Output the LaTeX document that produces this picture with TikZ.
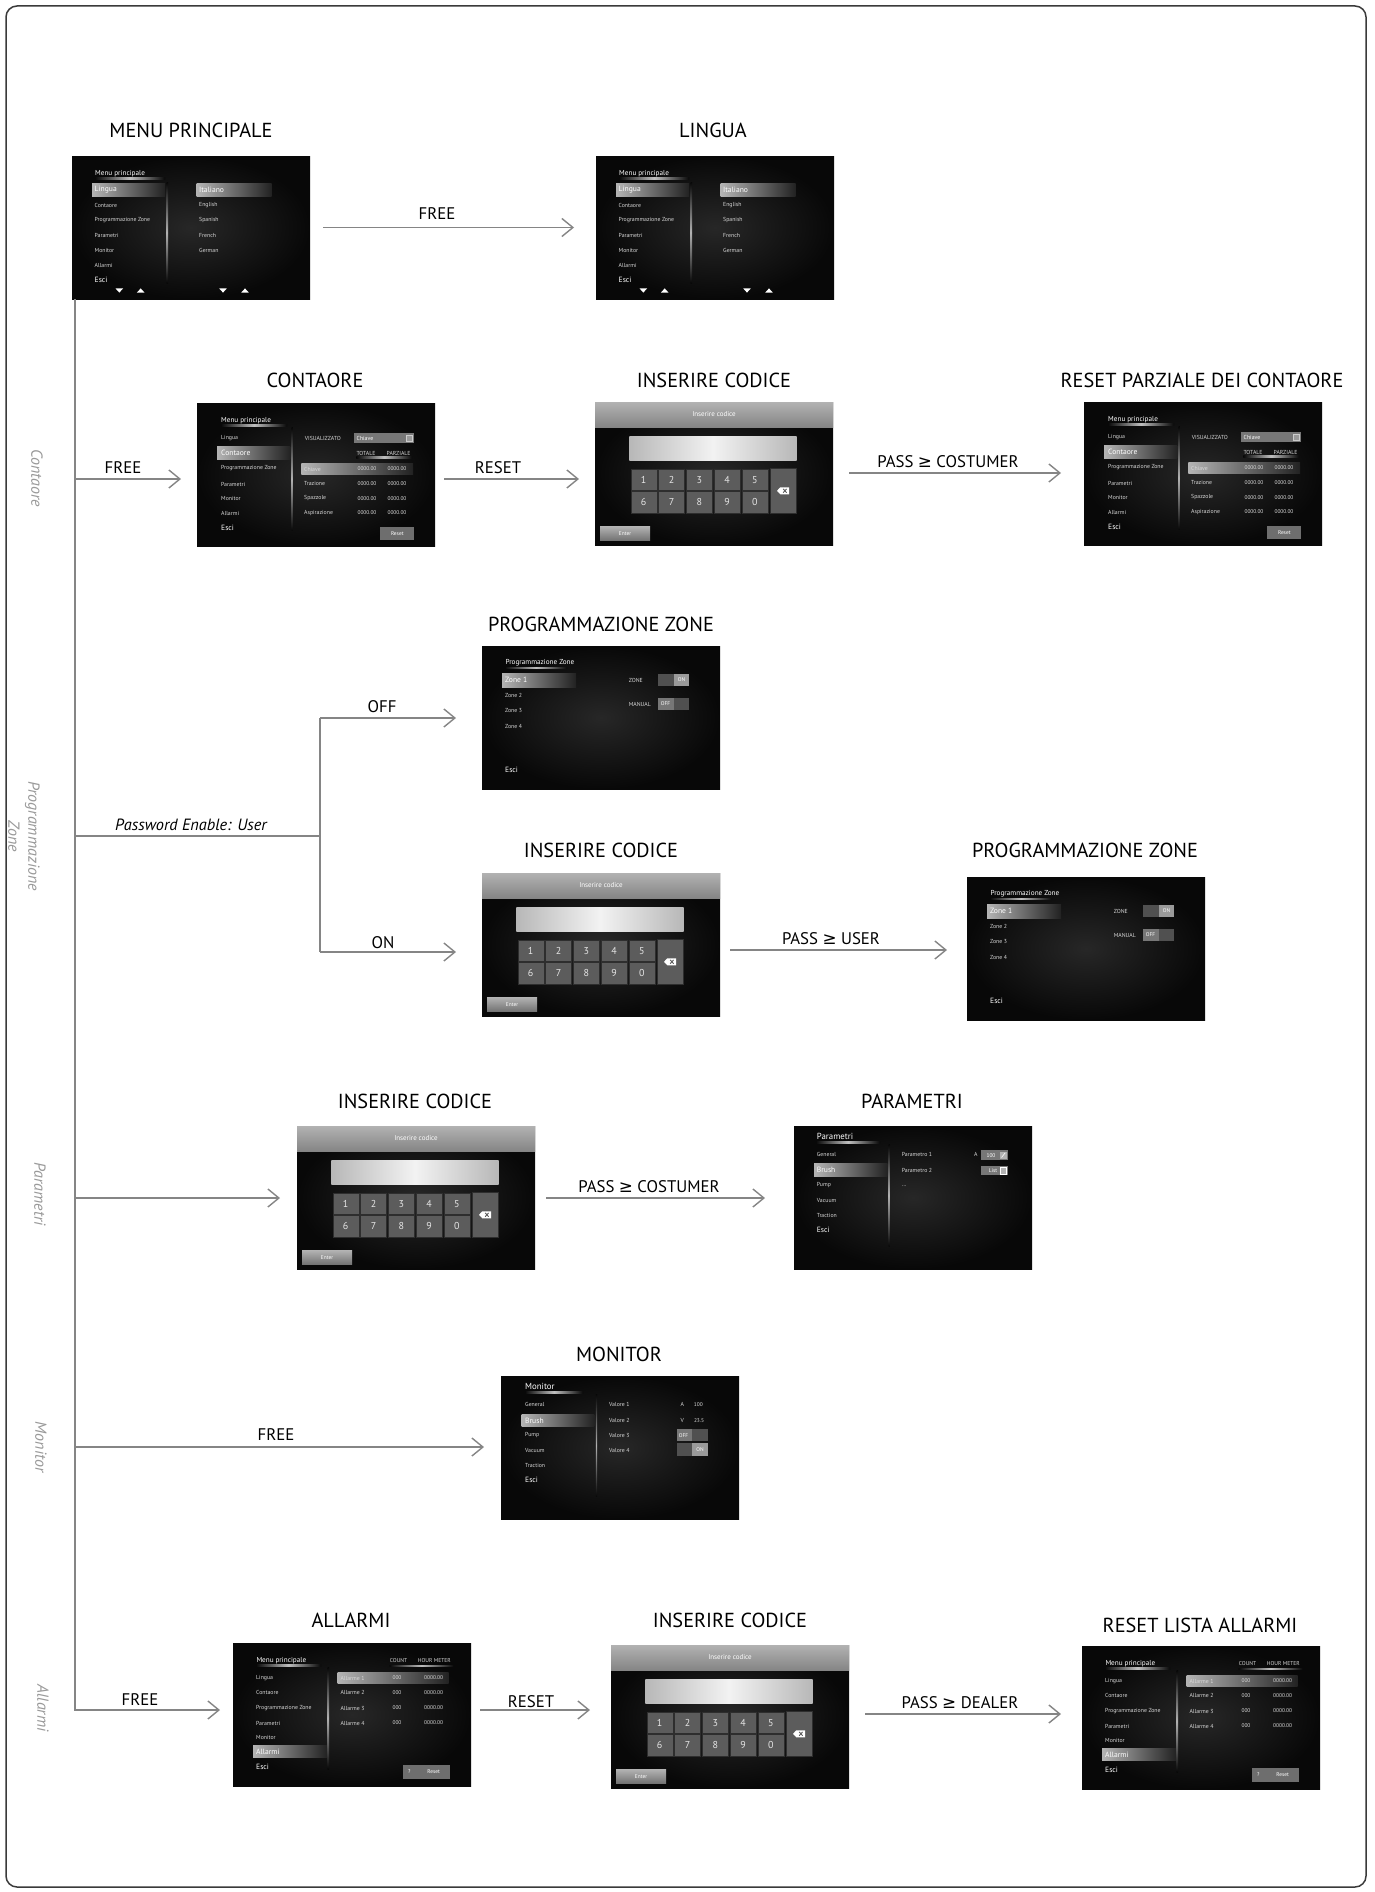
\documentclass[tikz,border=0pt]{standalone}
\usepackage{fontspec}
\setmainfont{PT Sans}
\newfontfamily\djv{DejaVu Sans}
\usetikzlibrary{arrows.meta,calc}
\definecolor{conncol}{HTML}{858585}
\definecolor{framec}{HTML}{3A3A3A}
\definecolor{scrin}{HTML}{272727}
\definecolor{scrout}{HTML}{080808}
\definecolor{txtc}{HTML}{D8D8D8}
\definecolor{hbarl}{HTML}{B4B4B4}
\definecolor{hbarr}{HTML}{222222}
\definecolor{keyc}{HTML}{5C5C5C}
\definecolor{keyb}{HTML}{2E2E2E}
\definecolor{btnc}{HTML}{6E6E6E}
\definecolor{togd}{HTML}{505050}
\definecolor{togl}{HTML}{9A9A9A}
\definecolor{togm}{HTML}{777777}
\definecolor{sidec}{HTML}{9A9A9A}
\definecolor{hdrt}{HTML}{B2B2B2}
\definecolor{hdrb}{HTML}{858585}
\tikzset{
 screen/.style={anchor=north west, minimum width=238pt, minimum height=143pt, inner sep=0pt, outer sep=0pt, shade, inner color=scrin, outer color=scrout},
 sitem/.style={anchor=west, inner sep=0pt, text=txtc, font=\fontsize{5.8}{6}\selectfont},
 sbig/.style={sitem, text=white, font=\fontsize{7.6}{8}\selectfont},
 stitle/.style={sitem, text=white, font=\fontsize{7.2}{8}\selectfont},
 shead/.style={sitem, text=white, font=\fontsize{8.8}{9}\selectfont},
 sval/.style={sitem, anchor=center, font=\fontsize{5.4}{6}\selectfont},
 keyn/.style={draw=keyb, line width=0.4pt, fill=keyc, minimum width=26pt, minimum height=21.5pt, inner sep=0pt, text=white!90!black, font=\fontsize{10}{11}\selectfont},
 ttl/.style={anchor=base, inner sep=0pt, font=\fontsize{20.3}{22}\selectfont},
 lbl/.style={anchor=base, inner sep=0pt, font=\fontsize{16.8}{18}\selectfont},
 sidelab/.style={rotate=-90, inner sep=0pt, text=sidec, font=\itshape\fontsize{16}{20}\selectfont, align=center},
 conn/.style={draw=conncol, line width=1.4pt},
 arr/.style={conn, -{Straight Barb[length=11pt, width=18pt, line width=1.4pt]}},
}
\newcommand\myhbar[4]{\shade[left color=hbarl, right color=hbarr] (#1,#2) rectangle (#3,#4);}
\newcommand\myul[4]{\shade[left color=scrout, right color=scrout, middle color=white!75!black] (#1,#2) rectangle (#3,#4);}
\newcommand\myvsep[4]{\shade[top color=scrout, bottom color=scrout, middle color=white!70!black] (#1,#2) rectangle (#3,#4);}
\newcommand\scrmenu[3]{%
\node[screen] (#1) at (#2,#3) {};
\begin{scope}[shift={(#2,#3)}]
\node[stitle] (#1h) at (23,17.5) {Menu principale};
\myul{23}{21.6}{93}{23}
\myhbar{20}{27.6}{93}{40.3}
\node[sbig] (#1a) at (22.5,34) {Lingua};
\node[sitem] (#1b) at (22.5,49.3) {Contaore};
\node[sitem] (#1c) at (22.5,64.3) {Programmazione Zone};
\node[sitem] (#1d) at (22.5,79.3) {Parametri};
\node[sitem] (#1e) at (22.5,94.3) {Monitor};
\node[sitem] (#1f) at (22.5,109) {Allarmi};
\node[sbig] (#1g) at (22.5,123.6) {Esci};
\myvsep{94.7}{26}{96}{127}
\myhbar{124.7}{27.6}{199.7}{40.3}
\node[sbig] (#1i) at (127,34) {Italiano};
\node[sitem] (#1j) at (127,49.3) {English};
\node[sitem] (#1k) at (127,64.3) {Spanish};
\node[sitem] (#1l) at (127,79.3) {French};
\node[sitem] (#1m) at (127,94.3) {German};
\foreach \cx in {47.3,151}{\fill[white] (\cx-3.8,132.4) -- (\cx+3.8,132.4) -- (\cx,136.6) -- cycle;}
\foreach \cx in {68.7,173}{\fill[white] (\cx-3.8,136.6) -- (\cx+3.8,136.6) -- (\cx,132.4) -- cycle;}
\end{scope}}
\newcommand\scrcont[3]{%
\node[screen] (#1) at (#2,#3) {};
\begin{scope}[shift={(#2,#3)}]
\node[stitle] (#1h) at (24,17.7) {Menu principale};
\myul{24}{21.8}{90}{23.2}
\node[sitem] (#1a) at (24,35.4) {Lingua};
\myhbar{20}{43.7}{93.3}{56}
\node[sbig] (#1b) at (24,50) {Contaore};
\node[sitem] (#1c) at (24,65.4) {Programmazione Zone};
\node[sitem] (#1d) at (24,81) {Parametri};
\node[sitem] (#1e) at (24,95) {Monitor};
\node[sitem] (#1f) at (24,110) {Allarmi};
\node[sbig] (#1g) at (24,125) {Esci};
\myvsep{94.5}{24.4}{95.8}{127.7}
\node[sitem] (#1v) at (107.6,35.4) {VISUALIZZATO};
\fill[togm] (157.3,30.4) rectangle (216.6,40);
\node[sitem, text=white] (#1w) at (159.5,35.2) {Chiave};
\filldraw[fill=togl, draw=white!80!black, line width=0.3pt] (209.3,32.2) rectangle (214.8,38.2);
\node[sval, font=\fontsize{5.8}{6}\selectfont] (#1x) at (169,50) {TOTALE};
\node[sval, font=\fontsize{5.8}{6}\selectfont] (#1y) at (201.6,50) {PARZIALE};
\myul{159.3}{53.8}{215}{55}
\myhbar{104.3}{60}{216}{71.7}
\foreach \nm/\yy [count=\k] in {Chiave/66, Trazione/80.7, Spazzole/95.4, Aspirazione/110}{%
 \node[sitem] (#1r\k) at (107,\yy) {\nm};
 \node[sval] (#1p\k) at (170,\yy) {0000.00};
 \node[sval] (#1q\k) at (200,\yy) {0000.00};}
\fill[btnc] (183.3,123.7) rectangle (217.3,136.7);
\node[sval, text=white] (#1z) at (200.3,130.2) {Reset};
\end{scope}}
\newcommand\scrkey[3]{%
\node[screen] (#1) at (#2,#3) {};
\begin{scope}[shift={(#2,#3)}]
\shade[top color=hdrt, bottom color=hdrb] (0,0) rectangle (238,25);
\node[sval, text=white, font=\fontsize{7}{8}\selectfont] (#1h) at (119,12.5) {Inserire codice};
\shade[left color=white!72!black, right color=white!72!black, middle color=white!95!black] (34.3,34.3) rectangle (201.7,58.3);
\foreach \dg [count=\k from 0] in {1,2,3,4,5}{\node[keyn] (#1k\dg) at (48.7+27.8*\k,77.6) {\dg};}
\foreach \dg [count=\k from 0] in {6,7,8,9,0}{\node[keyn] (#1k\dg) at (48.7+27.8*\k,100.4) {\dg};}
\node[keyn, minimum height=44.4pt] (#1kb) at (188,88.8) {};
\fill[white] (182,88.8) -- (185.3,85.3) -- (194.2,85.3) -- (194.2,92.3) -- (185.3,92.3) -- cycle;
\draw[keyc, line width=0.9pt] (188.2,86.9) -- (191.6,90.7) (188.2,90.7) -- (191.6,86.9);
\shade[top color=white!70!black, bottom color=white!45!black] (5,124.3) rectangle (55,138.3);
\node[sval, text=white, font=\fontsize{5.4}{6}\selectfont] (#1en) at (30,131.3) {Enter};
\end{scope}}
\newcommand\scrzone[3]{%
\node[screen] (#1) at (#2,#3) {};
\begin{scope}[shift={(#2,#3)}]
\node[stitle] (#1h) at (23.3,17) {Programmazione Zone};
\myul{23}{21}{85}{22.4}
\myhbar{20}{27.7}{94}{41}
\node[sbig] (#1a) at (23,34.3) {Zone 1};
\node[sitem] (#1b) at (23,49.4) {Zone 2};
\node[sitem] (#1c) at (23,64.4) {Zone 3};
\node[sitem] (#1d) at (23,80) {Zone 4};
\node[sbig] (#1e) at (23,123.7) {Esci};
\node[sitem] (#1f) at (146.6,34.7) {ZONE};
\fill[togd] (176.3,27.7) rectangle (191.8,40.4);
\fill[togl] (191.8,27.7) rectangle (207.3,40.4);
\node[sval, text=white] (#1g) at (199.5,34) {ON};
\node[sitem] (#1i) at (146.6,58) {MANUAL};
\fill[togm] (176.3,51.7) rectangle (191.8,64.4);
\fill[togd] (191.8,51.7) rectangle (207.3,64.4);
\node[sval, text=white] (#1j) at (183.5,58) {OFF};
\end{scope}}
\newcommand\scralarm[3]{%
\node[screen] (#1) at (#2,#3) {};
\begin{scope}[shift={(#2,#3)}]
\node[stitle] (#1h) at (23.3,17.7) {Menu principale};
\myul{23}{21.8}{88}{23.2}
\node[sval, font=\fontsize{5.6}{6}\selectfont] (#1ca) at (165.6,17.7) {COUNT};
\node[sval, font=\fontsize{5.6}{6}\selectfont] (#1cb) at (201.3,17.7) {HOUR METER};
\myul{156.6}{22.2}{220.6}{23.4}
\node[sitem] (#1a) at (23,34.7) {Lingua};
\node[sitem] (#1b) at (23,49.3) {Contaore};
\node[sitem] (#1c) at (23,65) {Programmazione Zone};
\node[sitem] (#1d) at (23,80) {Parametri};
\node[sitem] (#1e) at (23,94.7) {Monitor};
\myhbar{20}{102.7}{94}{114.7}
\node[sbig] (#1f) at (23,108.7) {Allarmi};
\node[sbig] (#1g) at (23,124) {Esci};
\myvsep{94.7}{24.3}{96}{126}
\myhbar{104.6}{29.3}{215.6}{40.7}
\foreach \yy [count=\k] in {35,49.3,65,80}{%
 \node[sitem] (#1r\k) at (107.3,\yy) {Allarme \k};
 \node[sval] (#1p\k) at (164,\yy) {000};
 \node[sval] (#1q\k) at (200.6,\yy) {0000.00};}
\fill[btnc] (170.3,122) rectangle (217.3,136);
\node[sval, text=white] (#1za) at (176.3,129) {?};
\node[sval, text=white] (#1zb) at (200.6,129) {Reset};
\end{scope}}
\begin{document}
\begin{tikzpicture}[x=1pt,y=-1pt]
\useasboundingbox (0,0) rectangle (1375,1892);
\fill[white] (0,0) rectangle (1375,1892);
\draw[line width=1.5pt, draw=framec, rounded corners=11pt] (6,6) rectangle (1366,1887);
% screens
\scrmenu{s1}{72}{156}
\scrmenu{s2}{596}{156}
\scrcont{s3}{197}{403}
\scrkey{s4}{595}{402}
\scrcont{s5}{1084}{402}
\scrzone{s6}{482}{646}
\scrkey{s7}{482}{873}
\scrzone{s8}{967}{877}
\scrkey{s9}{297}{1126}
% parametri
\node[screen] (s10) at (794,1126) {};
\begin{scope}[shift={(794,1126)}]
\node[shead] (s10h) at (22.7,10.6) {Parametri};
\myul{22}{15.5}{86}{17}
\node[sitem] (s10a) at (22.7,28.6) {General};
\myhbar{20}{37.6}{93.7}{50}
\node[sbig] (s10b) at (22.7,44) {Brush};
\node[sitem] (s10c) at (22.7,59) {Pump};
\node[sitem] (s10d) at (22.7,74) {Vacuum};
\node[sitem] (s10e) at (22.7,89.3) {Traction};
\node[sbig] (s10ee) at (22.7,104) {Esci};
\myvsep{94.5}{18.3}{95.8}{120.6}
\node[sitem] (s10f) at (107.7,28.6) {Parametro 1};
\node[sval, font=\fontsize{5.8}{6}\selectfont] (s10g) at (181.7,28.6) {A};
\fill[togm] (187,24.3) rectangle (213.7,34);
\node[sval, text=white] (s10i) at (197,29.2) {100};
\fill[white!70!black] (206.2,25.5) rectangle (212.5,32.8);
\draw[white, line width=0.6pt] (207.5,31.5) -- (211.2,26.8);
\node[sitem] (s10j) at (107.7,44.3) {Parametro 2};
\fill[togm] (187,40) rectangle (213.7,49.3);
\node[sval, text=white] (s10k) at (199,44.7) {List};
\filldraw[fill=white!70!black, draw=white, line width=0.3pt] (206.2,41.4) rectangle (212.5,47.9);
\node[sitem] (s10l) at (107.7,60) {...};
\end{scope}
% monitor
\node[screen] (s11) at (501,1376) {};
\begin{scope}[shift={(501,1376)}]
\node[shead] (s11h) at (24,10.6) {Monitor};
\myul{24}{15.5}{82}{17}
\node[sitem] (s11a) at (24,28.6) {General};
\myhbar{20.7}{38.3}{93.3}{50.6}
\node[sbig] (s11b) at (24,44.5) {Brush};
\node[sitem] (s11c) at (24,59) {Pump};
\node[sitem] (s11d) at (24,74) {Vacuum};
\node[sitem] (s11e) at (24,89.3) {Traction};
\node[sbig] (s11f) at (24,104) {Esci};
\myvsep{94.8}{18.3}{96.1}{120.6}
\node[sitem] (s11g) at (108,28.6) {Valore 1};
\node[sval, font=\fontsize{5.8}{6}\selectfont] (s11h1) at (181.3,28.6) {A};
\node[sval] (s11h2) at (197.3,28.6) {100};
\node[sitem] (s11i) at (108,44.3) {Valore 2};
\node[sval, font=\fontsize{5.8}{6}\selectfont] (s11i1) at (181.3,44.3) {V};
\node[sval] (s11i2) at (198,44.3) {23.5};
\node[sitem] (s11j) at (108,59.3) {Valore 3};
\fill[togm] (175.7,53.3) rectangle (191.2,65);
\fill[togd] (191.2,53.3) rectangle (206.7,65);
\node[sval, text=white] (s11j1) at (182.5,59.2) {OFF};
\node[sitem] (s11k) at (108,74.3) {Valore 4};
\fill[togd] (175.7,67.3) rectangle (191.2,80);
\fill[togl] (191.2,67.3) rectangle (206.7,80);
\node[sval, text=white] (s11k1) at (199,73.7) {ON};
\end{scope}
\scralarm{s12}{233}{1643}
\scrkey{s13}{611}{1645}
\scralarm{s14}{1082}{1646}
% titles
\node[ttl] (tt1) at (191,138) {MENU PRINCIPALE};
\node[ttl] (tt2) at (713,138) {LINGUA};
\node[ttl] (tt3) at (315,387) {CONTAORE};
\node[ttl] (tt4) at (714,387) {INSERIRE CODICE};
\node[ttl] (tt5) at (1202,387) {RESET PARZIALE DEI CONTAORE};
\node[ttl] (tt6) at (601,631) {PROGRAMMAZIONE ZONE};
\node[ttl] (tt7) at (601,857) {INSERIRE CODICE};
\node[ttl] (tt8) at (1085,857) {PROGRAMMAZIONE ZONE};
\node[ttl] (tt9) at (415,1108) {INSERIRE CODICE};
\node[ttl] (tt10) at (912,1108) {PARAMETRI};
\node[ttl] (tt11) at (619,1361) {MONITOR};
\node[ttl] (tt12) at (351,1627) {ALLARMI};
\node[ttl] (tt13) at (730,1627) {INSERIRE CODICE};
\node[ttl] (tt14) at (1200,1632) {RESET LISTA ALLARMI};
% side labels
\node[sidelab] (sl1) at (37,478) {Contaore};
\node[sidelab] (sl2) at (24,836) {Programmazione\\Zone};
\node[sidelab] (sl3) at (40,1194) {Parametri};
\node[sidelab] (sl4) at (41,1447) {Monitor};
\node[sidelab] (sl5) at (43,1708) {Allarmi};
% connectors
\coordinate (t0) at ([xshift=3pt]s1.south west);
\coordinate (tE) at (75,1710);
\draw[arr] (t0) -- (tE) -- ($(tE -| s12.west)+(-13,0)$);
\draw[arr] ([xshift=13pt]s1.east) -- ($(s2.west)+(-22,0)$);
\coordinate (j1) at (75,479);
\draw[arr] (j1) -- ($(j1 -| s3.west)+(-16,0)$);
\coordinate (r1) at ($(s3.east)+(9,4.5)$);
\draw[arr] (r1) -- ($(r1 -| s4.west)+(-16,0)$);
\coordinate (r2) at ($(s4.east)+(16,-0.5)$);
\draw[arr] (r2) -- ($(r2 -| s5.west)+(-23,0)$);
\coordinate (j2) at (75,836);
\coordinate (pz) at (320,836);
\draw[conn] (j2) -- (pz);
\coordinate (pzt) at (320,718);
\coordinate (pzb) at (320,952);
\draw[conn] (pzt) -- (pzb);
\draw[arr] (pzt) -- ($(pzt -| s6.west)+(-26,0)$);
\draw[arr] (pzb) -- ($(pzb -| s7.west)+(-26,0)$);
\coordinate (r3) at ($(s7.east)+(10,5.5)$);
\draw[arr] (r3) -- ($(r3 -| s8.west)+(-20,0)$);
\coordinate (j3) at (75,1198);
\draw[arr] (j3) -- ($(j3 -| s9.west)+(-17,0)$);
\coordinate (r4) at ($(s9.east)+(11,0.5)$);
\draw[arr] (r4) -- ($(r4 -| s10.west)+(-29,0)$);
\coordinate (j4) at (75,1447);
\draw[arr] (j4) -- ($(j4 -| s11.west)+(-17,0)$);
\coordinate (r5) at ($(s12.east)+(9,-4.5)$);
\draw[arr] (r5) -- ($(r5 -| s13.west)+(-21,0)$);
\coordinate (r6) at ($(s13.east)+(16,-2.5)$);
\draw[arr] (r6) -- ($(r6 -| s14.west)+(-21,0)$);
% connector labels
\node[lbl] (lb1) at (437,219) {FREE};
\node[lbl] (lb2) at (123,473) {FREE};
\node[lbl] (lb3) at (498,473) {RESET};
\node[lbl] (lb4) at (948,467) {PASS {\djv ≥} COSTUMER};
\node[lbl, font=\itshape\fontsize{16.3}{18}\selectfont] (lb5) at (191,830) {Password Enable: User};
\node[lbl] (lb6) at (382,712) {OFF};
\node[lbl] (lb7) at (383,948) {ON};
\node[lbl] (lb8) at (831,944) {PASS {\djv ≥} USER};
\node[lbl] (lb9) at (649,1192) {PASS {\djv ≥} COSTUMER};
\node[lbl] (lb10) at (276,1440) {FREE};
\node[lbl] (lb11) at (140,1705) {FREE};
\node[lbl] (lb12) at (531,1707) {RESET};
\node[lbl] (lb13) at (960,1708) {PASS {\djv ≥} DEALER};
\end{tikzpicture}
\end{document}
